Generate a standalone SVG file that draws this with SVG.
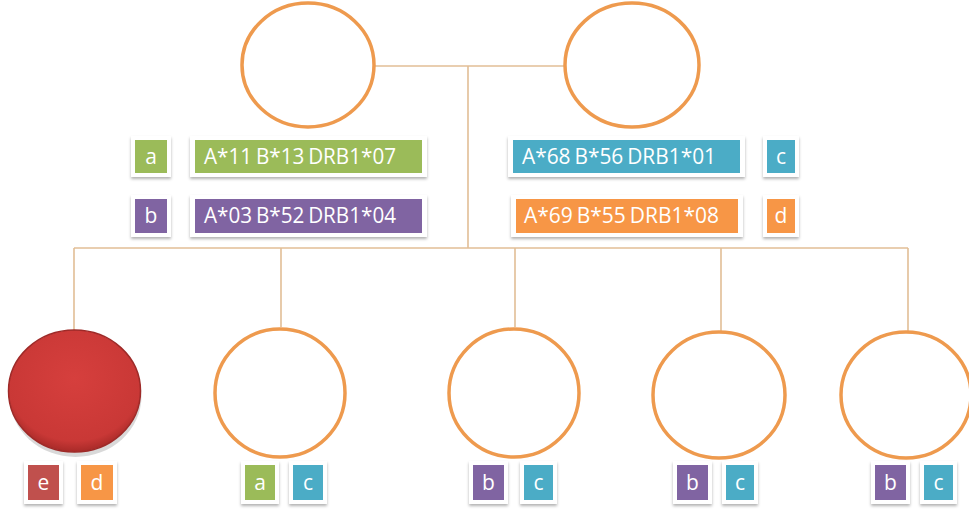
<svg xmlns="http://www.w3.org/2000/svg" width="969" height="514" viewBox="0 0 969 514">
<defs>
<filter id="sh" x="-20%" y="-20%" width="140%" height="150%">
<feDropShadow dx="0" dy="2" stdDeviation="1.5" flood-color="#000" flood-opacity="0.3"/>
</filter>
<radialGradient id="red" cx="50%" cy="40%" r="60%">
<stop offset="0" stop-color="#D63F3D"/>
<stop offset="0.85" stop-color="#C93836"/>
<stop offset="1" stop-color="#A82A28"/>
</radialGradient>
<style>
.ln{stroke:#E2BE96;stroke-width:1.6;fill:none}
.ci{fill:#fff;stroke:#EE9A4E;stroke-width:3.5}
.fr{fill:#fff;filter:url(#sh)}
.t{fill:#fff;font-family:"Open Sans","Liberation Sans",sans-serif;font-size:21px;word-spacing:-1.5px}
.s{fill:#fff;font-family:"Open Sans","Liberation Sans",sans-serif;font-size:21px;text-anchor:middle}
.g{fill:#9BBB59}.p{fill:#8064A2}.c{fill:#4BACC6}.o{fill:#F79646}.r{fill:#C0504D}
</style>
</defs>
<g id="connectors">
<path class="ln" d="M375 66H564M468 66V248M74 248H908M74 248V331M281 248V327M515 248V327M721 248V331M908 248V331"/>
</g>
<g id="parent1"><ellipse class="ci" cx="308" cy="65" rx="66" ry="62"/></g>
<g id="parent2"><ellipse class="ci" cx="632" cy="65" rx="67" ry="62"/></g>
<g id="child1">
<ellipse cx="74.5" cy="393" rx="66" ry="61" fill="#000" opacity="0.15" transform="translate(1,3)"/>
<ellipse cx="74.5" cy="391" rx="66" ry="61" fill="url(#red)" stroke="#9E2A28" stroke-width="1.5"/>
</g>
<g id="child2"><ellipse class="ci" cx="280" cy="393" rx="65" ry="64"/></g>
<g id="child3"><ellipse class="ci" cx="514" cy="393" rx="65" ry="64"/></g>
<g id="child4"><ellipse class="ci" cx="719" cy="395" rx="66" ry="63"/></g>
<g id="child5"><ellipse class="ci" cx="906" cy="395" rx="65" ry="63"/></g>
<g id="label-a">
<rect class="fr" x="131" y="136" width="40" height="41"/><rect class="g" x="135" y="140" width="32" height="33"/><text class="s" x="151" y="164">a</text>
<rect class="fr" x="190" y="136" width="237" height="41"/><rect class="g" x="195" y="140" width="227" height="33"/><text class="t" x="204" y="164" textLength="192" lengthAdjust="spacingAndGlyphs">A*11 B*13 DRB1*07</text>
</g>
<g id="label-b">
<rect class="fr" x="131" y="195" width="40" height="42"/><rect class="p" x="135" y="199" width="32" height="34"/><text class="s" x="151" y="223">b</text>
<rect class="fr" x="190" y="195" width="237" height="42"/><rect class="p" x="195" y="199" width="227" height="34"/><text class="t" x="204" y="223" textLength="192" lengthAdjust="spacingAndGlyphs">A*03 B*52 DRB1*04</text>
</g>
<g id="label-c">
<rect class="fr" x="508" y="136" width="237" height="41"/><rect class="c" x="513" y="140" width="227" height="33"/><text class="t" x="522" y="164" textLength="194" lengthAdjust="spacingAndGlyphs">A*68 B*56 DRB1*01</text>
<rect class="fr" x="763" y="136" width="36" height="41"/><rect class="c" x="767" y="140" width="28" height="33"/><text class="s" x="781" y="164">c</text>
</g>
<g id="label-d">
<rect class="fr" x="511" y="195" width="232" height="42"/><rect class="o" x="516" y="199" width="222" height="34"/><text class="t" x="524" y="223" textLength="195" lengthAdjust="spacingAndGlyphs">A*69 B*55 DRB1*08</text>
<rect class="fr" x="763" y="195" width="36" height="42"/><rect class="o" x="767" y="199" width="28" height="34"/><text class="s" x="781" y="223">d</text>
</g>
<g id="child1-labels">
<rect class="fr" x="24" y="461" width="39" height="43"/><rect class="r" x="28" y="465" width="31" height="35"/><text class="s" x="43.5" y="490">e</text>
<rect class="fr" x="77" y="461" width="40" height="43"/><rect class="o" x="81" y="465" width="32" height="35"/><text class="s" x="97" y="490">d</text>
</g>
<g id="child2-labels">
<rect class="fr" x="241" y="461" width="38" height="43"/><rect class="g" x="245" y="465" width="30" height="35"/><text class="s" x="260" y="490">a</text>
<rect class="fr" x="289" y="461" width="38" height="43"/><rect class="c" x="293" y="465" width="30" height="35"/><text class="s" x="308" y="490">c</text>
</g>
<g id="child3-labels">
<rect class="fr" x="469" y="461" width="39" height="43"/><rect class="p" x="473" y="465" width="31" height="35"/><text class="s" x="488.5" y="490">b</text>
<rect class="fr" x="520" y="461" width="37" height="43"/><rect class="c" x="524" y="465" width="29" height="35"/><text class="s" x="538.5" y="490">c</text>
</g>
<g id="child4-labels">
<rect class="fr" x="673" y="461" width="39" height="43"/><rect class="p" x="677" y="465" width="31" height="35"/><text class="s" x="692.5" y="490">b</text>
<rect class="fr" x="722" y="461" width="36" height="43"/><rect class="c" x="726" y="465" width="28" height="35"/><text class="s" x="740" y="490">c</text>
</g>
<g id="child5-labels">
<rect class="fr" x="871" y="461" width="39" height="43"/><rect class="p" x="875" y="465" width="31" height="35"/><text class="s" x="890.5" y="490">b</text>
<rect class="fr" x="920" y="461" width="37" height="43"/><rect class="c" x="924" y="465" width="29" height="35"/><text class="s" x="938.5" y="490">c</text>
</g>
</svg>
